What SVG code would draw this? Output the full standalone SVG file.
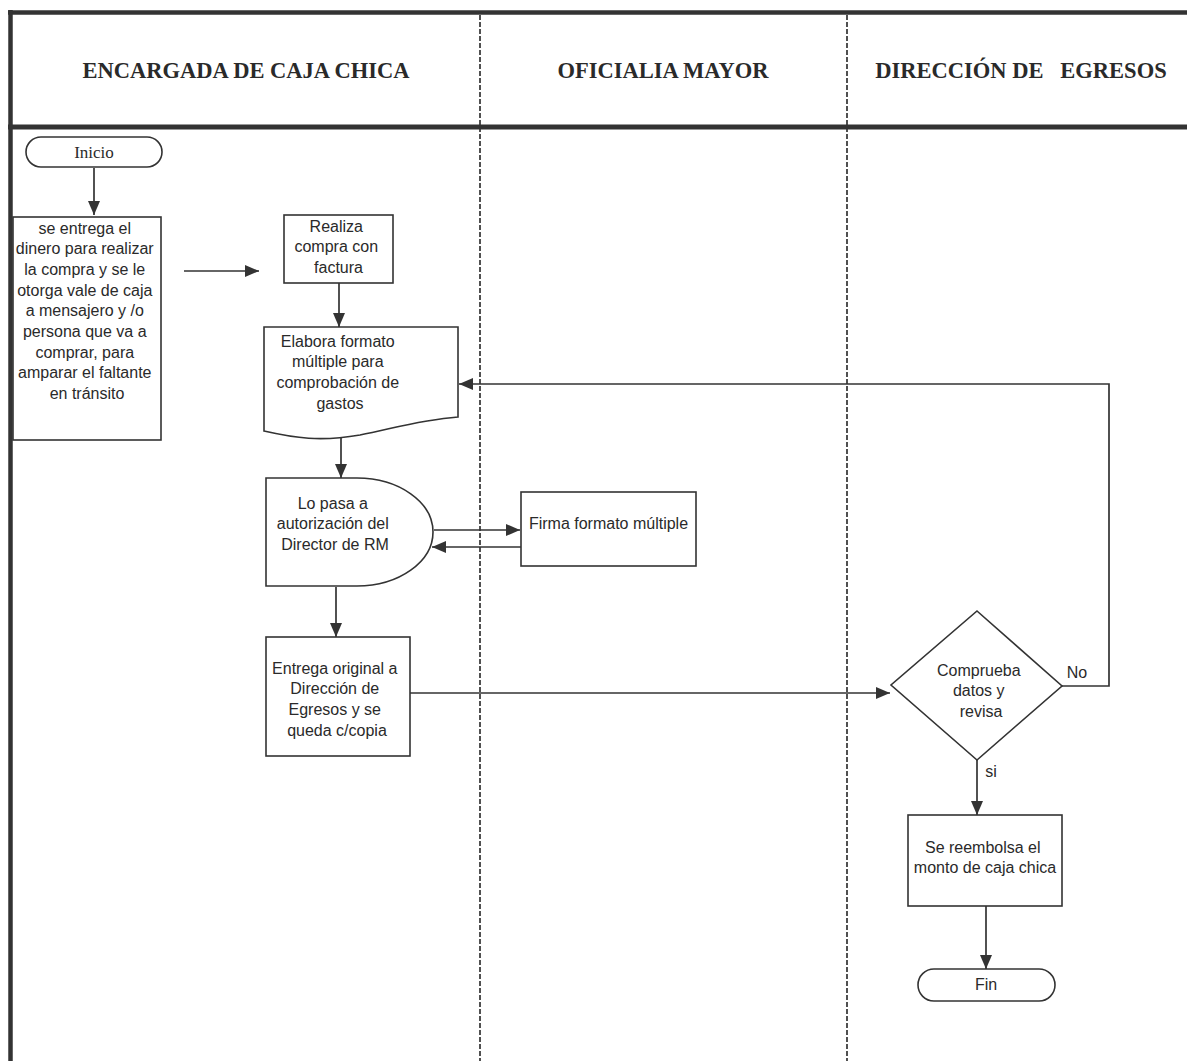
<svg xmlns="http://www.w3.org/2000/svg" width="1187" height="1061" viewBox="0 0 1187 1061">
  <style>
    .frame { stroke: #333; fill: none; }
    .lane { stroke: #333; stroke-width: 1.7; stroke-dasharray: 5 2; fill: none; }
    .shape { fill: #fff; stroke: #333; stroke-width: 1.6; }
    .edge { fill: none; stroke: #333; stroke-width: 1.7; }
    .head { font-family: "Liberation Serif", "Times New Roman", serif; font-weight: bold; font-size: 22.5px; fill: #2a2a2a; text-anchor: middle; }
    .serif { font-family: "Liberation Serif", "Times New Roman", serif; font-size: 17px; fill: #2a2a2a; text-anchor: middle; }
    .lbl { font-family: "Liberation Sans", Arial, sans-serif; font-size: 16px; fill: #2a2a2a; text-anchor: middle; }
  </style>
  <defs>
    <marker id="arrow" viewBox="0 0 14 12" refX="14" refY="6" markerWidth="14" markerHeight="12" markerUnits="userSpaceOnUse" orient="auto">
      <path d="M0,0 L14,6 L0,12 Z" fill="#333"/>
    </marker>
  </defs>

  <rect width="1187" height="1061" fill="#fff"/>

  <!-- swimlane frame -->
  <g id="frame">
    <line class="frame" x1="8" y1="12.5" x2="1187" y2="12.5" stroke-width="4.5"/>
    <line class="frame" x1="8" y1="127" x2="1187" y2="127" stroke-width="5"/>
    <line class="frame" x1="10.5" y1="10" x2="10.5" y2="1061" stroke-width="4.5"/>
    <line class="lane" x1="480" y1="15" x2="480" y2="1061"/>
    <line class="lane" x1="847" y1="15" x2="847" y2="1061"/>
    <text class="head" x="246" y="78">ENCARGADA DE CAJA CHICA</text>
    <text class="head" x="663" y="78">OFICIALIA MAYOR</text>
    <text class="head" x="1021" y="78" xml:space="preserve">DIRECCIÓN DE   EGRESOS</text>
  </g>

  <!-- connectors -->
  <g id="connectors">
    <line class="edge" x1="94" y1="168" x2="94" y2="215" marker-end="url(#arrow)"/>
    <line class="edge" x1="184" y1="271" x2="259" y2="271" marker-end="url(#arrow)"/>
    <line class="edge" x1="339" y1="283" x2="339" y2="327" marker-end="url(#arrow)"/>
    <line class="edge" x1="341" y1="433" x2="341" y2="478" marker-end="url(#arrow)"/>
    <line class="edge" x1="434" y1="530" x2="520" y2="530" marker-end="url(#arrow)"/>
    <line class="edge" x1="521" y1="547" x2="432" y2="547" marker-end="url(#arrow)"/>
    <line class="edge" x1="336" y1="587" x2="336" y2="637" marker-end="url(#arrow)"/>
    <line class="edge" x1="410" y1="693" x2="890" y2="693" marker-end="url(#arrow)"/>
    <polyline class="edge" points="1062,686 1109,686 1109,384 459,384" marker-end="url(#arrow)"/>
    <line class="edge" x1="977" y1="760" x2="977" y2="815" marker-end="url(#arrow)"/>
    <line class="edge" x1="986" y1="906" x2="986" y2="969" marker-end="url(#arrow)"/>
    <text class="lbl" x="1077" y="678">No</text>
    <text class="lbl" x="991" y="777">si</text>
  </g>

  <g id="inicio">
    <rect class="shape" x="26" y="137" width="136" height="30" rx="15" ry="15"/>
    <text class="serif" x="94" y="158">Inicio</text>
  </g>

  <g id="entrega-dinero">
    <rect class="shape" x="13" y="217" width="148" height="223"/>
    <text class="lbl" x="87">
      <tspan x="87" y="233.5">se entrega el</tspan>
      <tspan x="87" y="254.2">dinero para realizar</tspan>
      <tspan x="87" y="274.9">la compra y se le</tspan>
      <tspan x="87" y="295.6">otorga vale de caja</tspan>
      <tspan x="87" y="316.3">a mensajero y /o</tspan>
      <tspan x="87" y="337">persona que va a</tspan>
      <tspan x="87" y="357.7">comprar, para</tspan>
      <tspan x="87" y="378.4">amparar el faltante</tspan>
      <tspan x="87" y="399.1">en tránsito</tspan>
    </text>
  </g>

  <g id="realiza-compra">
    <rect class="shape" x="284" y="215" width="109" height="68"/>
    <text class="lbl">
      <tspan x="338.5" y="231.5">Realiza</tspan>
      <tspan x="338.5" y="252.2">compra con</tspan>
      <tspan x="338.5" y="272.9">factura</tspan>
    </text>
  </g>

  <g id="elabora-formato">
    <path class="shape" d="M264,327 H458 V417 C420,420 395,428 360,435 C320,442 295,438 264,431 Z"/>
    <text class="lbl">
      <tspan x="340" y="346.5">Elabora formato</tspan>
      <tspan x="340" y="367.2">múltiple para</tspan>
      <tspan x="340" y="387.9">comprobación de</tspan>
      <tspan x="340" y="408.6">gastos</tspan>
    </text>
  </g>

  <g id="autorizacion">
    <path class="shape" d="M266,478 H357 A76,54 0 0 1 357,586 H266 Z"/>
    <text class="lbl">
      <tspan x="335" y="508.5">Lo pasa a</tspan>
      <tspan x="335" y="529.2">autorización del</tspan>
      <tspan x="335" y="549.9">Director de RM</tspan>
    </text>
  </g>

  <g id="firma-formato">
    <rect class="shape" x="521" y="492" width="175" height="74"/>
    <text class="lbl" x="608.5" y="528.5">Firma formato múltiple</text>
  </g>

  <g id="entrega-original">
    <rect class="shape" x="266" y="637" width="144" height="119"/>
    <text class="lbl">
      <tspan x="337" y="673.5">Entrega original a</tspan>
      <tspan x="337" y="694.2">Dirección de</tspan>
      <tspan x="337" y="714.9">Egresos y se</tspan>
      <tspan x="337" y="735.6">queda c/copia</tspan>
    </text>
  </g>

  <g id="comprueba">
    <polygon class="shape" points="977,611 1062,686 977,760 891,685"/>
    <text class="lbl">
      <tspan x="981" y="675.5">Comprueba</tspan>
      <tspan x="981" y="696.2">datos y</tspan>
      <tspan x="981" y="716.9">revisa</tspan>
    </text>
  </g>

  <g id="reembolsa">
    <rect class="shape" x="908" y="815" width="154" height="91"/>
    <text class="lbl">
      <tspan x="985" y="852.5">Se reembolsa el</tspan>
      <tspan x="985" y="873.2">monto de caja chica</tspan>
    </text>
  </g>

  <g id="fin">
    <rect class="shape" x="918" y="969" width="137" height="32" rx="16" ry="16"/>
    <text class="lbl" x="986" y="990">Fin</text>
  </g>
</svg>
